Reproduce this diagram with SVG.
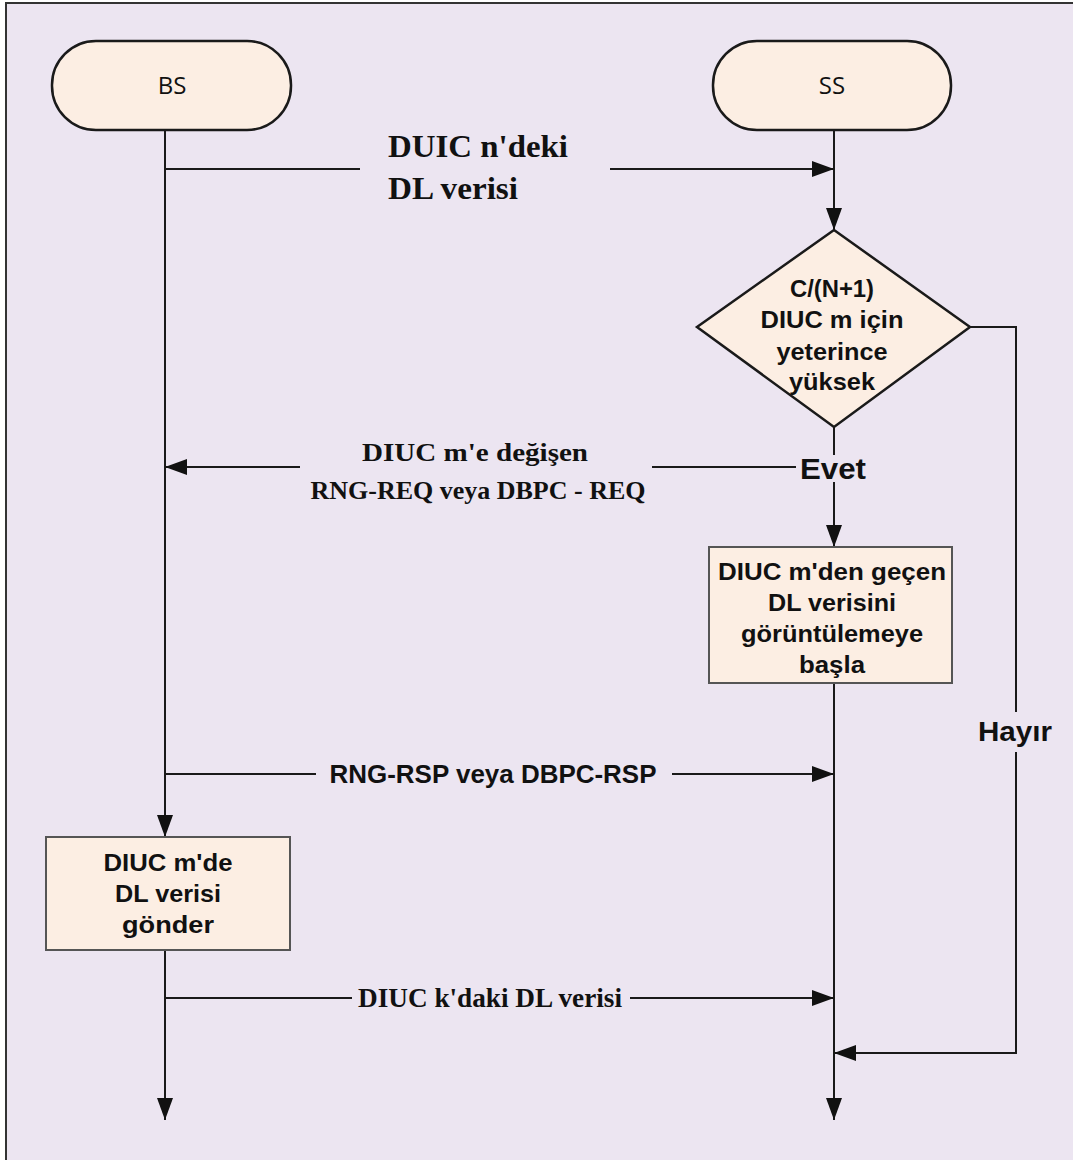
<svg xmlns="http://www.w3.org/2000/svg" width="1073" height="1160" viewBox="0 0 1073 1160">
  <style>
    .term { fill: #FCEEE3; stroke: #1a1a1a; stroke-width: 2.5; }
    .proc { fill: #FCEEE3; stroke: #555; stroke-width: 2; }
    .line { fill: none; stroke: #1a1a1a; stroke-width: 2; }
    .lbl-ser { font-family: "Liberation Serif", "DejaVu Serif", serif; font-weight: bold; fill: #111; }
    .lbl-sans { font-family: "Liberation Sans", Arial, sans-serif; font-weight: bold; fill: #111; }
    .term-txt { font-family: "Open Sans", "Noto Sans", sans-serif; font-size: 24px; fill: #111; text-anchor: middle; }
    .node-txt { font-family: "Liberation Sans", Arial, sans-serif; font-weight: bold; font-size: 24px; fill: #111; text-anchor: middle; }
  </style>
  <defs>
    <marker id="ah" viewBox="0 0 22 16" markerWidth="22" markerHeight="16" refX="22" refY="8" orient="auto" markerUnits="userSpaceOnUse">
      <path d="M0,0 L22,8 L0,16 z" fill="#111"/>
    </marker>
  </defs>

  <!-- frame -->
  <rect x="0" y="0" width="1073" height="1160" fill="#ffffff"/>
  <rect x="6" y="3" width="1080" height="1170" fill="#ECE5F1" stroke="#333" stroke-width="2"/>

  <!-- connectors -->
  <g id="connectors">
    <!-- BS lifeline -->
    <path class="line" d="M165,130 V837" marker-end="url(#ah)"/>
    <path class="line" d="M165,950 V1120" marker-end="url(#ah)"/>
    <!-- SS lifeline -->
    <path class="line" d="M834,130 V230" marker-end="url(#ah)"/>
    <path class="line" d="M834,427 V455"/>
    <path class="line" d="M834,482 V547" marker-end="url(#ah)"/>
    <path class="line" d="M834,683 V1120" marker-end="url(#ah)"/>
    <!-- DL data on DIUC n -->
    <path class="line" d="M165,169 H360"/>
    <path class="line" d="M610,169 H834" marker-end="url(#ah)"/>
    <!-- RNG-REQ / DBPC-REQ -->
    <path class="line" d="M796,467 H652"/>
    <path class="line" d="M300,467 H165" marker-end="url(#ah)"/>
    <!-- RNG-RSP / DBPC-RSP -->
    <path class="line" d="M165,774 H316"/>
    <path class="line" d="M672,774 H834" marker-end="url(#ah)"/>
    <!-- DL data on DIUC k -->
    <path class="line" d="M165,998 H352"/>
    <path class="line" d="M630,998 H834" marker-end="url(#ah)"/>
    <!-- "no" branch -->
    <path class="line" d="M970,327 H1016 V712"/>
    <path class="line" d="M1016,752 V1053 H834" marker-end="url(#ah)"/>

    <!-- connector labels -->
    <text class="lbl-ser" x="388" y="157" font-size="31" textLength="180" lengthAdjust="spacingAndGlyphs">DUIC n'deki</text>
    <text class="lbl-ser" x="388" y="199" font-size="31" textLength="130" lengthAdjust="spacingAndGlyphs">DL verisi</text>
    <text class="lbl-ser" x="475" y="461" font-size="25" text-anchor="middle" textLength="226" lengthAdjust="spacingAndGlyphs">DIUC  m'e değişen</text>
    <text class="lbl-ser" x="478" y="499" font-size="26" text-anchor="middle" textLength="335" lengthAdjust="spacingAndGlyphs">RNG-REQ veya DBPC - REQ</text>
    <text class="lbl-sans" x="833" y="479" font-size="29" text-anchor="middle" textLength="66" lengthAdjust="spacingAndGlyphs">Evet</text>
    <text class="lbl-sans" x="493" y="783" font-size="25" text-anchor="middle" textLength="327" lengthAdjust="spacingAndGlyphs">RNG-RSP veya DBPC-RSP</text>
    <text class="lbl-ser" x="490" y="1007" font-size="27" text-anchor="middle" textLength="264" lengthAdjust="spacingAndGlyphs">DIUC k'daki DL verisi</text>
    <text class="lbl-sans" x="1015" y="741" font-size="27" text-anchor="middle" textLength="74" lengthAdjust="spacingAndGlyphs">Hayır</text>
  </g>

  <!-- BS terminal -->
  <g id="bs">
    <rect class="term" x="52" y="41" width="239" height="89" rx="44" ry="44"/>
    <text class="term-txt" x="172" y="94">BS</text>
  </g>

  <!-- SS terminal -->
  <g id="ss">
    <rect class="term" x="713" y="41" width="238" height="89" rx="44" ry="44"/>
    <text class="term-txt" x="832" y="94">SS</text>
  </g>

  <!-- C/(N+1) decision -->
  <g id="decision">
    <polygon class="term" points="834,230 970,327 834,427 697,327" stroke-width="2"/>
    <text class="node-txt" x="832" y="297" textLength="84" lengthAdjust="spacingAndGlyphs">C/(N+1)</text>
    <text class="node-txt" x="832" y="328" textLength="143" lengthAdjust="spacingAndGlyphs">DIUC m için</text>
    <text class="node-txt" x="832" y="360" textLength="111" lengthAdjust="spacingAndGlyphs">yeterince</text>
    <text class="node-txt" x="832" y="390" textLength="86" lengthAdjust="spacingAndGlyphs">yüksek</text>
  </g>

  <!-- start monitoring box -->
  <g id="monitor">
    <rect class="proc" x="709" y="547" width="243" height="136"/>
    <text class="node-txt" x="832" y="580" textLength="228" lengthAdjust="spacingAndGlyphs">DIUC m'den geçen</text>
    <text class="node-txt" x="832" y="611" textLength="128" lengthAdjust="spacingAndGlyphs">DL verisini</text>
    <text class="node-txt" x="832" y="642" textLength="182" lengthAdjust="spacingAndGlyphs">görüntülemeye</text>
    <text class="node-txt" x="832" y="673" textLength="66" lengthAdjust="spacingAndGlyphs">başla</text>
  </g>

  <!-- send data box -->
  <g id="send">
    <rect class="proc" x="46" y="837" width="244" height="113"/>
    <text class="node-txt" x="168" y="871" textLength="129" lengthAdjust="spacingAndGlyphs">DIUC m'de</text>
    <text class="node-txt" x="168" y="902" textLength="106" lengthAdjust="spacingAndGlyphs">DL verisi</text>
    <text class="node-txt" x="168" y="933" textLength="92" lengthAdjust="spacingAndGlyphs">gönder</text>
  </g>
</svg>
